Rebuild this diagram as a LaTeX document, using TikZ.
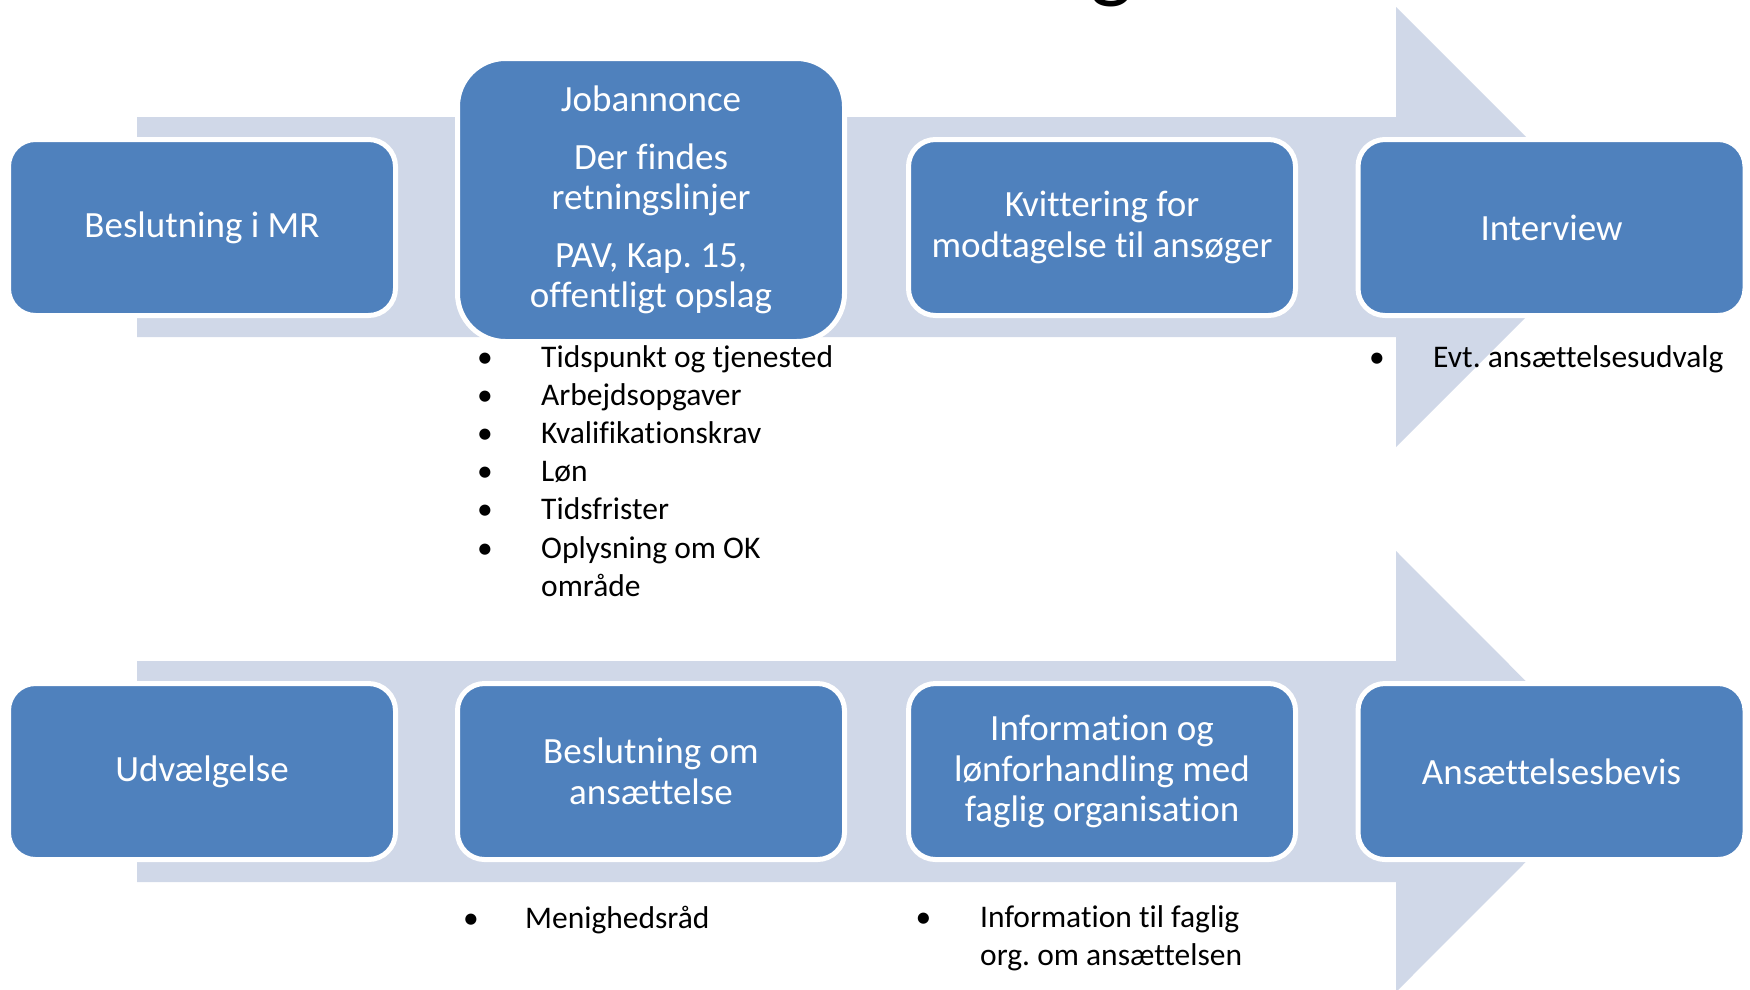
\documentclass[tikz,border=0pt]{standalone}
\usepackage{fontspec}
\setmainfont{Carlito}[Ligatures=NoCommon]
\frenchspacing
\definecolor{boxblue}{HTML}{4F81BD}
\definecolor{arrowgrey}{HTML}{D0D8E8}
\begin{document}
\begin{tikzpicture}[x=1pt,y=-1pt,
  stepbox/.style={rectangle, rounded corners=27pt, fill=boxblue, draw=white, line width=5pt,
    minimum width=387pt, minimum height=176pt, text=white, align=center,
    font=\fontsize{37}{40.5}\selectfont\frenchspacing, inner sep=0pt},
  bigbox/.style={stepbox, rounded corners=48pt, minimum height=283pt},
  flowarrow/.style={fill=arrowgrey},
  bul/.style={anchor=base, inner sep=0pt, font=\fontsize{31.5}{38}\selectfont},
  itemtext/.style={anchor=base west, inner sep=0pt, font=\fontsize{31.5}{38}\selectfont\frenchspacing}
]
\useasboundingbox (0,0) rectangle (1750,989);
\clip (0,0) rectangle (1750,989);
\fill[white] (0,0) rectangle (1750,989);

% partial title glyph at the top edge
\node[anchor=base, inner sep=0pt, font=\fontsize{90}{90}\selectfont] (title) at (1112,-9) {g};

% background arrows
\fill[flowarrow] (137,117) -- (1396,117) -- (1396,7) -- (1616,227) -- (1396,447)
  -- (1396,337) -- (137,337) -- cycle;
\fill[flowarrow] (137,661) -- (1396,661) -- (1396,551) -- (1616,771.5) -- (1396,992)
  -- (1396,882) -- (137,882) -- cycle;

% top row
\node[stepbox] (mr) at (202,227.5) {Beslutning i MR};
\node[bigbox] (job) at (651,200) {Jobannonce\\[17pt]Der findes\\retningslinjer\\[17pt]PAV, Kap. 15,\\offentligt opslag};
\node[stepbox] (kvit) at (1102,227.5) {Kvittering for\\modtagelse til ansøger};
\node[stepbox] (int) at (1551.5,227.5) {Interview};

% bottom row
\node[stepbox] (udv) at (202,771.5) {Udvælgelse};
\node[stepbox] (besl) at (651,771.5) {Beslutning om\\ansættelse};
\node[stepbox] (info) at (1102,771.5) {Information og\\lønforhandling med\\faglig organisation};
\node[stepbox] (bevis) at (1551.5,771.5) {Ansættelsesbevis};

% bullet list under Jobannonce
\node[bul] (jb1) at (485,367) {\textbullet};
\node[itemtext] (jt1) at (541,367) {Tidspunkt og tjenested};
\node[bul] (jb2) at (485,405.2) {\textbullet};
\node[itemtext] (jt2) at (541,405.2) {Arbejdsopgaver};
\node[bul] (jb3) at (485,443.4) {\textbullet};
\node[itemtext] (jt3) at (541,443.4) {Kvalifikationskrav};
\node[bul] (jb4) at (485,481.6) {\textbullet};
\node[itemtext] (jt4) at (541,481.6) {Løn};
\node[bul] (jb5) at (485,519.8) {\textbullet};
\node[itemtext] (jt5) at (541,519.8) {Tidsfrister};
\node[bul] (jb6) at (485,558) {\textbullet};
\node[itemtext] (jt6) at (541,558) {Oplysning om OK};
\node[itemtext] (jt7) at (541,596.2) {område};

% bullet under Interview
\node[bul] (ib1) at (1377,367) {\textbullet};
\node[itemtext] (it1) at (1433,367) {Evt. ansættelsesudvalg};

% bullet under Beslutning om ansættelse
\node[bul] (bb1) at (471,928) {\textbullet};
\node[itemtext] (bt1) at (525,928) {Menighedsråd};

% bullet under Information
\node[bul] (fb1) at (923.5,927) {\textbullet};
\node[itemtext] (ft1) at (980,927) {Information til faglig};
\node[itemtext] (ft2) at (980,965.2) {org. om ansættelsen};
\end{tikzpicture}
\end{document}
